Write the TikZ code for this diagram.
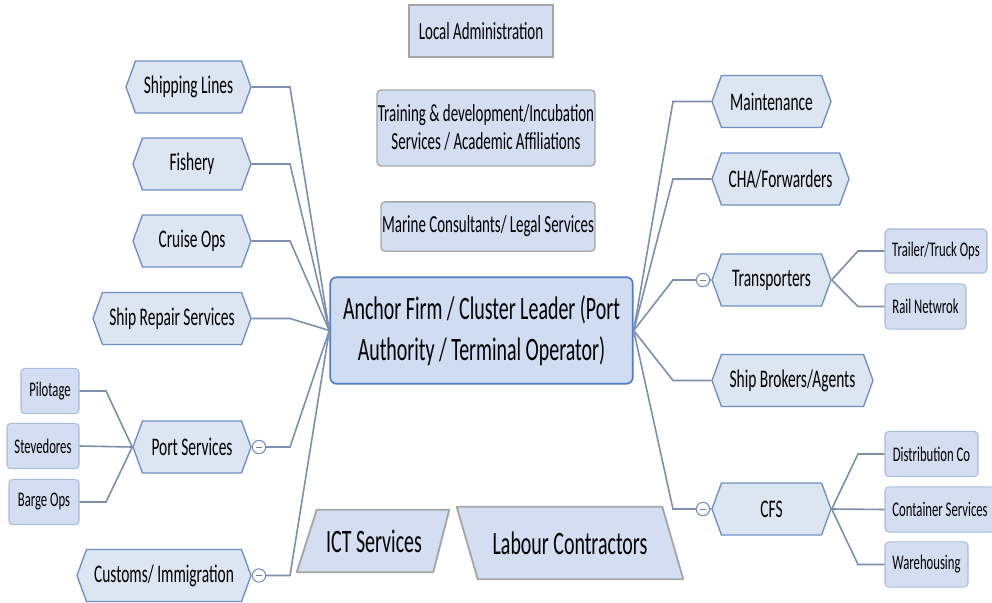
\documentclass[tikz,border=0pt]{standalone}
\usepackage{fontspec}
\setmainfont{Carlito}[FakeStretch=0.61]
\usetikzlibrary{shapes.symbols}

\definecolor{hexfill}{HTML}{DCE5F2}
\definecolor{hexline}{HTML}{6F8FC4}
\definecolor{boxfill}{HTML}{D3DEF2}
\definecolor{mainfill}{HTML}{D0DCF1}
\definecolor{mainline}{HTML}{4F7ECB}
\definecolor{greyline}{HTML}{A6A6A6}
\definecolor{linkline}{HTML}{7D8FAD}

\tikzset{
  hexnode/.style={signal, signal to=west and east, signal pointer angle=140,
    draw=hexline, fill=hexfill, line width=1pt, inner sep=0pt,
    minimum height=39pt, font=\fontsize{19}{22}\selectfont},
  subnode/.style={rectangle, rounded corners=3pt, draw=hexline!60, fill=boxfill,
    line width=0.8pt, inner sep=0pt, minimum height=34pt, font=\fontsize{15.6}{18}\selectfont},
  topnode/.style={rectangle, rounded corners=3pt, draw=greyline, fill=boxfill,
    line width=1pt, inner sep=0pt, align=center, font=\fontsize{18.4}{21}\selectfont},
  slantnode/.style={rectangle, inner sep=0pt, font=\fontsize{24.5}{28}\selectfont},
  slantline/.style={draw=greyline, fill=boxfill, line width=1.4pt, line join=round},
  foldnode/.style={circle, draw=hexline, fill=white, line width=0.8pt, inner sep=0pt,
    minimum size=10pt,
    path picture={\draw[gray, line width=0.7pt]
      ([xshift=-2pt]path picture bounding box.center) --
      ([xshift=2pt]path picture bounding box.center);}},
  link/.style={draw=linkline, line width=1.2pt},
}

\begin{document}
\begin{tikzpicture}[x=0.75pt, y=-0.75pt]
\useasboundingbox (0,0) rectangle (992,603);

% bend columns
\coordinate (lbend) at (290,0);
\coordinate (rbend) at (673,0);
\coordinate (pbend) at (106,0);
\coordinate (tbend) at (858,0);

% centre
\node[rectangle, rounded corners=5pt, draw=mainline, fill=mainfill, line width=1.3pt,
  minimum width=227pt, minimum height=80pt, align=center,
  font=\fontsize{24.5}{31}\selectfont] (main) at (481.5,330.5)
  {Anchor Firm / Cluster Leader (Port\\Authority / Terminal Operator)};

% top boxes
\node[topnode, rounded corners=0pt, minimum width=108pt, minimum height=39pt] (admin) at (481,31) {Local Administration};
\node[topnode, minimum width=163.5pt, minimum height=57pt] (train) at (486,128)
  {Training \& development/Incubation\\Services / Academic Affiliations};
\node[topnode, minimum width=160.5pt, minimum height=37pt] (marine) at (488,226.5) {Marine Consultants/ Legal Services};

% bottom slanted boxes
\node[slantnode, minimum width=100.5pt, minimum height=46.5pt] (ict) at (374,541) {};
\filldraw[slantline] ([xshift=7.5pt]ict.north west) -- ([xshift=6pt]ict.north east)
  -- ([xshift=-6pt]ict.south east) -- ([xshift=-7.5pt]ict.south west) -- cycle;
\node[slantnode] at (ict) {ICT Services};
\node[slantnode, minimum width=153.75pt, minimum height=54pt] (labour) at (570,543) {};
\filldraw[slantline] ([xshift=-7.9pt]labour.north west) -- ([xshift=-7.9pt]labour.north east)
  -- ([xshift=7.9pt]labour.south east) -- ([xshift=7.9pt]labour.south west) -- cycle;
\node[slantnode] at (labour) {Labour Contractors};

% left branch
\node[hexnode, minimum width=93.75pt] (ship) at (188.5,87) {Shipping Lines};
\node[hexnode, minimum width=88.5pt] (fish) at (192,164) {Fishery};
\node[hexnode, minimum width=88.5pt] (cruise) at (192,241) {Cruise Ops};
\node[hexnode, minimum width=118.5pt] (repair) at (172,318.5) {Ship Repair Services};
\node[hexnode, minimum width=88.5pt] (port) at (192,447) {Port Services};
\node[hexnode, minimum width=130.5pt] (customs) at (164,575.5) {Customs/ Immigration};
\node[foldnode] (portfold) at (259,447) {};
\node[foldnode] (custfold) at (259,575.5) {};

\node[subnode, minimum width=43.5pt] (pilot) at (50,391) {Pilotage};
\node[subnode, minimum width=54pt] (steve) at (43,446) {Stevedores};
\node[subnode, minimum width=52.5pt] (barge) at (44,502) {Barge Ops};

% right branch
\node[hexnode, minimum width=89.25pt] (maint) at (771.5,101.5) {Maintenance};
\node[hexnode, minimum width=102.75pt] (cha) at (780.5,179) {CHA/Forwarders};
\node[hexnode, minimum width=89.25pt] (trans) at (771.5,280) {Transporters};
\node[hexnode, minimum width=120.75pt] (broker) at (792.5,380.5) {Ship Brokers/Agents};
\node[hexnode, minimum width=89.25pt] (cfs) at (771.5,509) {CFS};
\node[foldnode] (transfold) at (703,280) {};
\node[foldnode] (cfsfold) at (703,509) {};

\node[subnode, minimum width=76.5pt, minimum height=33pt] (trailer) at (936,251) {Trailer/Truck Ops};
\node[subnode, minimum width=60.75pt] (rail) at (925.5,306.5) {Rail Netwrok};
\node[subnode, minimum width=69.75pt] (distrib) at (931.5,454) {Distribution Co};
\node[subnode, minimum width=82.5pt] (contain) at (940,509.5) {Container Services};
\node[subnode, minimum width=62.25pt] (ware) at (926.5,564.5) {Warehousing};

% links, left
\draw[link] (ship.east) -- (ship.east -| lbend) -- (main.west);
\draw[link] (fish.east) -- (fish.east -| lbend) -- (main.west);
\draw[link] (cruise.east) -- (cruise.east -| lbend) -- (main.west);
\draw[link] (repair.east) -- (repair.east -| lbend) -- (main.west);
\draw[link] (portfold.east) -- (portfold.east -| lbend) -- (main.west);
\draw[link] (custfold.east) -- (custfold.east -| lbend) -- (main.west);
\draw[link] (port.east) -- (portfold.west);
\draw[link] (customs.east) -- (custfold.west);
\draw[link] (pilot.east) -- (pilot.east -| pbend) -- (port.west);
\draw[link] (steve.east) -- (port.west);
\draw[link] (barge.east) -- (barge.east -| pbend) -- (port.west);

% links, right
\draw[link] (main.east) -- (maint.west -| rbend) -- (maint.west);
\draw[link] (main.east) -- (cha.west -| rbend) -- (cha.west);
\draw[link] (main.east) -- (transfold.west -| rbend) -- (transfold.west);
\draw[link] (main.east) -- (broker.west -| rbend) -- (broker.west);
\draw[link] (main.east) -- (cfsfold.west -| rbend) -- (cfsfold.west);
\draw[link] (transfold.east) -- (trans.west);
\draw[link] (cfsfold.east) -- (cfs.west);
\draw[link] (trans.east) -- (trailer.west -| tbend) -- (trailer.west);
\draw[link] (trans.east) -- (rail.west -| tbend) -- (rail.west);
\draw[link] (cfs.east) -- (distrib.west -| tbend) -- (distrib.west);
\draw[link] (cfs.east) -- (contain.west);
\draw[link] (cfs.east) -- (ware.west -| tbend) -- (ware.west);

\end{tikzpicture}
\end{document}
